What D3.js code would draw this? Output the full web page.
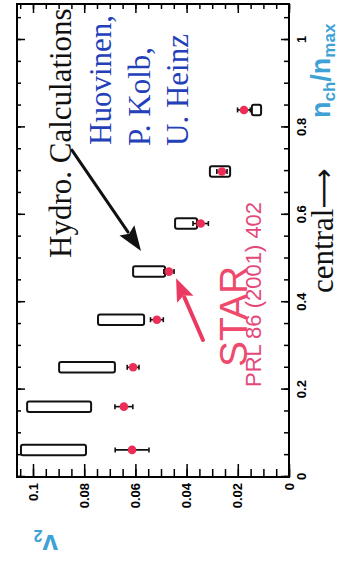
<!DOCTYPE html>
<html>
<head>
<meta charset="utf-8">
<script src="https://cdn.jsdelivr.net/npm/d3@7"></script>
<style>
  html, body { margin: 0; padding: 0; background: #fff; }
  svg { display: block; }
</style>
</head>
<body>
<svg id="chart" width="339" height="564"></svg>
<script>
// ---------------- data ----------------
const nchValues  = [0.062, 0.161, 0.251, 0.360, 0.470, 0.580, 0.699, 0.840];
const hydroLow   = [0.0793, 0.0773, 0.0680, 0.0566, 0.0484, 0.0359, 0.0230, 0.0109];
const hydroHigh  = [0.1047, 0.1023, 0.0898, 0.0746, 0.0609, 0.0445, 0.0309, 0.0145];
const starV2     = [0.0613, 0.0645, 0.0609, 0.0516, 0.0469, 0.0345, 0.0262, 0.0176];
const starErr    = [0.0066, 0.0035, 0.0023, 0.0025, 0.0020, 0.0030, 0.0020, 0.0025];
const nchTicks   = [0, 0.2, 0.4, 0.6, 0.8, 1];
const v2Ticks    = [0, 0.02, 0.04, 0.06, 0.08, 0.1];
const nchTickLabels = ["0", "0.2", "0.4", "0.6", "0.8", "1"];
const v2TickLabels  = ["0", "0.02", "0.04", "0.06", "0.08", "0.1"];
// annotation arrows in data coordinates [nch, v2]
const hydroArrow = [[0.748, 0.0848], [0.517, 0.0578]];
const starArrow  = [[0.3135, 0.0336], [0.455, 0.0441]];

// ---------------- layout ----------------
const svg = d3.select("#chart");
svg.append("rect").attr("width", 339).attr("height", 564).attr("fill", "#fff");

const W = 473, H = 272;           // plot in un-rotated frame
const nScale = d3.scaleLinear().domain([0, 1.0824]).range([0, W]);
const vScale = d3.scaleLinear().domain([0, 0.10625]).range([H, 0]);

// whole chart drawn in normal orientation and turned 90deg counter-clockwise
const g = svg.append("g").attr("transform", "translate(17,477) rotate(-90)");

const tickFont = "'Liberation Sans', Arial, sans-serif";

function styleAxis(sel) {
  sel.select(".domain").remove();
  sel.selectAll(".tick line").attr("stroke", "#000").attr("stroke-width", 1.5);
  sel.selectAll("text").attr("fill", "#000").attr("font-family", tickFont)
     .attr("font-weight", "bold").attr("font-size", 13);
}

const nMinor = nScale.ticks(20);
const vMinor = vScale.ticks(20);

// bottom (n_ch) axis – appears on the right of the picture
g.append("g").attr("transform", `translate(0,${H})`)
  .call(d3.axisBottom(nScale).tickValues(nMinor).tickSize(-5).tickFormat(""))
  .call(styleAxis);
g.append("g").attr("transform", `translate(0,${H})`)
  .call(d3.axisBottom(nScale).tickValues(nchTicks).tickSize(-8).tickPadding(8)
        .tickFormat((d, i) => nchTickLabels[i]))
  .call(styleAxis);
// top mirror axis – appears on the left
g.append("g")
  .call(d3.axisTop(nScale).tickValues(nMinor).tickSize(-4).tickFormat(""))
  .call(styleAxis);
g.append("g")
  .call(d3.axisTop(nScale).tickValues(nchTicks).tickSize(-8).tickFormat(""))
  .call(styleAxis);
// left (v2) axis – appears at the bottom
g.append("g")
  .call(d3.axisLeft(vScale).tickValues(vMinor).tickSize(-8).tickFormat(""))
  .call(styleAxis);
g.append("g")
  .call(d3.axisLeft(vScale).tickValues(v2Ticks).tickSize(-13).tickPadding(6)
        .tickFormat((d, i) => v2TickLabels[i]))
  .call(styleAxis);
// right mirror axis – appears at the top
g.append("g").attr("transform", `translate(${W},0)`)
  .call(d3.axisRight(vScale).tickValues(vMinor).tickSize(-5).tickFormat(""))
  .call(styleAxis);
g.append("g").attr("transform", `translate(${W},0)`)
  .call(d3.axisRight(vScale).tickValues(v2Ticks).tickSize(-9).tickFormat(""))
  .call(styleAxis);

// frame
g.append("rect").attr("x", 0).attr("y", 0).attr("width", W).attr("height", H)
  .attr("fill", "none").attr("stroke", "#000").attr("stroke-width", 2);

// hydro boxes
const halfW = 0.012;
const idx = d3.range(nchValues.length);
g.append("g").selectAll("rect").data(idx).join("rect")
  .attr("x", i => nScale(nchValues[i] - halfW))
  .attr("width", i => nScale(nchValues[i] + halfW) - nScale(nchValues[i] - halfW))
  .attr("y", i => vScale(hydroHigh[i]))
  .attr("height", i => vScale(hydroLow[i]) - vScale(hydroHigh[i]))
  .attr("rx", 2)
  .attr("fill", "#fff").attr("stroke", "#111").attr("stroke-width", 2);

// STAR points with error bars
const eb = g.append("g").attr("stroke", "#111").attr("stroke-width", 1.6);
eb.selectAll("line.bar").data(idx).join("line").attr("class", "bar")
  .attr("x1", i => nScale(nchValues[i])).attr("x2", i => nScale(nchValues[i]))
  .attr("y1", i => vScale(starV2[i] - starErr[i])).attr("y2", i => vScale(starV2[i] + starErr[i]));
eb.selectAll("line.capA").data(idx).join("line").attr("class", "capA")
  .attr("x1", i => nScale(nchValues[i]) - 2.5).attr("x2", i => nScale(nchValues[i]) + 2.5)
  .attr("y1", i => vScale(starV2[i] - starErr[i])).attr("y2", i => vScale(starV2[i] - starErr[i]));
eb.selectAll("line.capB").data(idx).join("line").attr("class", "capB")
  .attr("x1", i => nScale(nchValues[i]) - 2.5).attr("x2", i => nScale(nchValues[i]) + 2.5)
  .attr("y1", i => vScale(starV2[i] + starErr[i])).attr("y2", i => vScale(starV2[i] + starErr[i]));
g.append("g").selectAll("circle").data(idx).join("circle")
  .attr("cx", i => nScale(nchValues[i])).attr("cy", i => vScale(starV2[i]))
  .attr("r", 4.3).attr("fill", "#ec2d55");

// arrows
function arrow(pts, color, lw, headLen, headHalf) {
  const [x1, y1] = [nScale(pts[0][0]), vScale(pts[0][1])];
  const [x2, y2] = [nScale(pts[1][0]), vScale(pts[1][1])];
  const dx = x2 - x1, dy = y2 - y1, L = Math.hypot(dx, dy);
  const ux = dx / L, uy = dy / L;
  const bx = x2 - ux * headLen, by = y2 - uy * headLen;
  g.append("line").attr("x1", x1).attr("y1", y1)
    .attr("x2", bx + ux * 2).attr("y2", by + uy * 2)
    .attr("stroke", color).attr("stroke-width", lw).attr("stroke-linecap", "round");
  g.append("polygon")
    .attr("points", [[x2, y2], [bx - uy * headHalf, by + ux * headHalf], [bx + ux * 4, by + uy * 4], [bx + uy * headHalf, by - ux * headHalf]].map(p => p.join(",")).join(" "))
    .attr("fill", color);
}
arrow(hydroArrow, "#111", 3, 25, 9);
arrow(starArrow, "#ea3a62", 4, 23, 9);

// ---------------- texts (screen coordinates) ----------------
const serif = "'Liberation Serif', 'Times New Roman', serif";
const sans = "'Liberation Sans', Arial, sans-serif";
function rtext(x, y, str, size, color, family, angle = -90) {
  return svg.append("text").attr("transform", `translate(${x},${y}) rotate(${angle})`)
    .attr("font-family", family).attr("font-size", size).attr("fill", color).text(str);
}
rtext(71, 258, "Hydro. Calculations", 31, "#111", serif);
rtext(111, 145, "Huovinen,", 31, "#2440b8", serif);
rtext(150, 146, "P. Kolb,", 31, "#2440b8", serif);
rtext(188, 146, "U. Heinz", 31, "#2440b8", serif);
const ct = rtext(333, 293, "central", 31, "#111", serif);
ct.append("tspan").attr("font-family", "'DejaVu Sans', sans-serif").attr("font-size", 28).text("\u27F6");
rtext(247, 367, "STAR", 39, "#ef4a6c", sans);
rtext(261, 387, "PRL 86 (2001) 402", 22, "#e4487a", sans);

// axis titles
const nt = svg.append("text").attr("transform", "translate(330,118) rotate(-90)")
  .attr("font-family", sans).attr("font-weight", "bold").attr("font-size", 27).attr("fill", "#3ea2d6");
nt.append("tspan").text("n");
nt.append("tspan").attr("dy", 5).attr("font-size", 17).text("ch");
nt.append("tspan").attr("dy", -5).text("/n");
nt.append("tspan").attr("dy", 5).attr("font-size", 17).text("max");

const vt = svg.append("text").attr("transform", "translate(58,535) rotate(180)")
  .attr("font-family", sans).attr("font-weight", "bold").attr("font-size", 28).attr("fill", "#3ea2d6");
vt.append("tspan").text("v");
vt.append("tspan").attr("dy", 5).attr("font-size", 16).text("2");
</script>
</body>
</html>
